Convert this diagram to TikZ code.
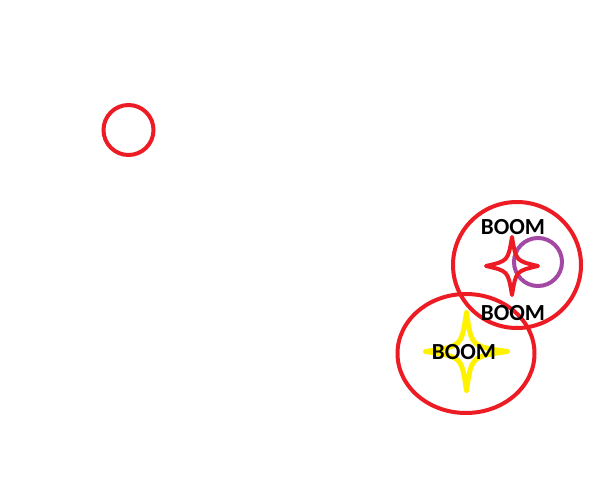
\documentclass[tikz,border=0pt]{standalone}
\usepackage{fontspec}
\setmainfont{Carlito}
\definecolor{pred}{HTML}{ED1C24}
\definecolor{pyellow}{HTML}{FFF200}
\definecolor{ppurple}{HTML}{A349A4}
\begin{document}
\begin{tikzpicture}[x=1pt,y=-1pt,
  redline/.style={draw=pred,line width=4pt},
  boom/.style={font=\bfseries\fontsize{23}{25}\selectfont,text=black,inner sep=0pt}]
\useasboundingbox[fill=white] (0,0) rectangle (600,500);
% small circle
\draw[redline] (128.5,130) circle[radius=25];
% big circles
\draw[redline] (517,265) ellipse[x radius=64,y radius=63];
\draw[redline] (466,353.5) ellipse[x radius=68.5,y radius=59.5];
% purple circle
\draw[draw=ppurple,line width=4pt] (538,262) circle[radius=24];
% red star
\begin{scope}[shift={(512,266)}]
\draw[redline,line join=round] (0,-29) .. controls (4,-5) .. (26,0)
  .. controls (4,5) .. (0,29) .. controls (-4,5) .. (-26,0)
  .. controls (-4,-5) .. cycle;
\end{scope}
% yellow star
\begin{scope}[shift={(466.5,351.5)}]
\draw[draw=pyellow,line width=5pt,line join=round] (0,-39) .. controls (5,-5) .. (41,0)
  .. controls (5,5) .. (0,39) .. controls (-5,5) .. (-41,0)
  .. controls (-5,-5) .. cycle;
\end{scope}
% texts
\node[boom] (b1) at (513,227) {BOOM};
\node[boom] (b2) at (513,313) {BOOM};
\node[boom] (b3) at (464,352) {BOOM};
\end{tikzpicture}
\end{document}
